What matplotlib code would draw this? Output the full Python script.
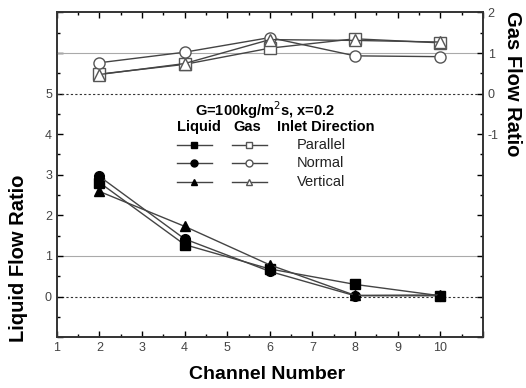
import matplotlib
matplotlib.use("Agg")
import matplotlib.pyplot as plt
from matplotlib.ticker import MultipleLocator, FuncFormatter
from matplotlib.lines import Line2D

plt.rcParams['font.family'] = ['Liberation Sans', 'DejaVu Sans']

channels = [2, 4, 6, 8, 10]
directions = ['Parallel', 'Normal', 'Vertical']
markers = ['s', 'o', '^']

# liquid flow ratio (left axis)
liquid_parallel = [2.81, 1.28, 0.68, 0.30, 0.02]
liquid_normal = [2.96, 1.42, 0.62, 0.02, 0.02]
liquid_vertical = [2.59, 1.73, 0.78, 0.03, 0.04]

# gas flow ratio (right axis)
gas_parallel = [0.48, 0.72, 1.12, 1.35, 1.25]
gas_normal = [0.76, 1.02, 1.38, 0.93, 0.91]
gas_vertical = [0.47, 0.74, 1.33, 1.31, 1.27]

liquid = [liquid_parallel, liquid_normal, liquid_vertical]
gas = [gas_parallel, gas_normal, gas_vertical]

fig = plt.figure(figsize=(5.26, 3.88), dpi=100)
ax = fig.add_axes([0.108, 0.131, 0.810, 0.837])
ax2 = ax.twinx()

line_col = '#444444'
# reference lines
ax.axhline(1, color='#aaaaaa', lw=0.8, zorder=1)
ax.axhline(0, color='#333333', lw=0.8, ls=(0, (2, 2)), zorder=1)
ax2.axhline(1, color='#aaaaaa', lw=0.8, zorder=1)
ax2.axhline(0, color='#333333', lw=0.8, ls=(0, (2, 2)), zorder=1)

for vals, m in zip(liquid, markers):
    ax.plot(channels, vals, color=line_col, lw=1.0, marker=m, markersize=7,
            markerfacecolor='black', markeredgecolor='black', zorder=3)
for vals, m in zip(gas, markers):
    ax2.plot(channels, vals, color=line_col, lw=1.0, marker=m, markersize=8,
             markerfacecolor='white', markeredgecolor='#555555', markeredgewidth=1.0, zorder=3)

ax.set_xlim(1, 11)
ax.set_ylim(-1, 7)
ax2.set_ylim(-6, 2)

ax.xaxis.set_major_locator(MultipleLocator(1))
ax.xaxis.set_minor_locator(MultipleLocator(0.5))
ax.xaxis.set_major_formatter(FuncFormatter(lambda v, p: '%d' % v if 1 <= v <= 10 else ''))
ax.yaxis.set_major_locator(MultipleLocator(1))
ax.yaxis.set_minor_locator(MultipleLocator(0.5))
ax.yaxis.set_major_formatter(FuncFormatter(lambda v, p: '%d' % v if 0 <= v <= 5 else ''))
ax2.yaxis.set_major_locator(MultipleLocator(1))
ax2.yaxis.set_minor_locator(MultipleLocator(0.5))
ax2.yaxis.set_major_formatter(FuncFormatter(lambda v, p: '%d' % v if -1 <= v <= 2 else ''))

ax.tick_params(which='both', direction='in', top=True, labelsize=9, labelcolor='#444444', width=1)
ax.tick_params(which='major', length=4)
ax.tick_params(which='minor', length=2)
ax2.tick_params(which='both', direction='in', labelsize=9, labelcolor='#444444', width=1)
ax2.tick_params(which='major', length=4)
ax2.tick_params(which='minor', length=2)
for a in (ax, ax2):
    for s in a.spines.values():
        s.set_linewidth(1.2)
        s.set_color('#333333')

# axis titles
fig.text(0.508, 0.034, 'Channel Number', fontsize=14, fontweight='bold', ha='center', va='center')
fig.text(0.036, 0.335, 'Liquid Flow Ratio', fontsize=14.5, fontweight='bold',
         ha='center', va='center', rotation=90)
fig.text(0.975, 0.784, 'Gas Flow Ratio', fontsize=14.5, fontweight='bold',
         ha='center', va='center', rotation=270)

# legend block
tr = ax.transAxes
fs = 10.5
ax.text(0.49, 0.698, 'G=100kg/m$^2$s, x=0.2', transform=tr, fontsize=fs,
        fontweight='bold', ha='center', va='center')
ax.text(0.333, 0.646, 'Liquid', transform=tr, fontsize=fs, fontweight='bold', ha='center', va='center')
ax.text(0.446, 0.646, 'Gas', transform=tr, fontsize=fs, fontweight='bold', ha='center', va='center')
ax.text(0.631, 0.646, 'Inlet Direction', transform=tr, fontsize=fs, fontweight='bold', ha='center', va='center')
row_y = [0.591, 0.535, 0.477]
for name, m, y in zip(directions, markers, row_y):
    ax.add_line(Line2D([0.282, 0.364], [y, y], transform=tr, color=line_col, lw=1.0))
    ax.add_line(Line2D([0.321], [y], transform=tr, marker=m, markersize=5, color='black',
                       markerfacecolor='black', ls='none'))
    ax.add_line(Line2D([0.411, 0.493], [y, y], transform=tr, color=line_col, lw=1.0))
    ax.add_line(Line2D([0.45], [y], transform=tr, marker=m, markersize=5, color='#555555',
                       markerfacecolor='white', ls='none'))
    ax.text(0.563, y, name, transform=tr, fontsize=fs, ha='left', va='center', color='#222222')

fig.savefig('out.png', dpi=100)
